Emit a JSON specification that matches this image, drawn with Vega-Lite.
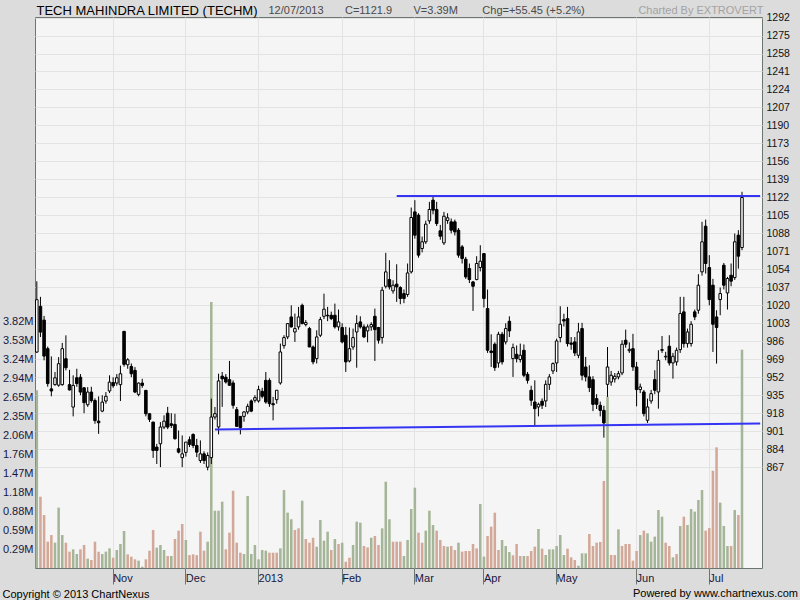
{
"$schema": "https://vega.github.io/schema/vega-lite/v6.json",
"width": 727,
"height": 551,
"autosize": {"type": "none"},
"padding": {"left": 35, "top": 17, "right": 38, "bottom": 32},
"background": "#dcdcdc",
"title": {"text": "Powered by www.chartnexus.com", "orient": "bottom", "anchor": "end", "frame": "group", "font": "Liberation Sans", "fontSize": 11, "fontWeight": "normal", "color": "#000000", "offset": 0, "dx": 36, "dy": -11},
"config": {
  "view": {"fill": "#f5f5f5", "stroke": "#6b7671", "strokeWidth": 1},
  "axis": {"labelFont": "Liberation Sans", "titleFont": "Liberation Sans", "titleFontWeight": "normal", "domain": false, "labelOverlap": false},
  "axisRight": {"labelOverlap": false, "labelBound": false, "labelFlush": false}
},
"datasets": {
"ohlc": [
{"date":"2012-10-01","open":975.8,"high":1042.7,"low":975,"close":1025.3,"vol":2.76,"dir":"up"},
{"date":"2012-10-03","open":1019,"high":1028,"low":990,"close":994.7,"vol":1.107,"dir":"down"},
{"date":"2012-10-04","open":1006,"high":1010,"low":968,"close":972,"vol":0.823,"dir":"down"},
{"date":"2012-10-05","open":979,"high":981,"low":943,"close":946,"vol":0.409,"dir":"down"},
{"date":"2012-10-08","open":941,"high":971.7,"low":934,"close":939,"vol":0.512,"dir":"down"},
{"date":"2012-10-09","open":945,"high":957,"low":944,"close":951.5,"vol":0.393,"dir":"up"},
{"date":"2012-10-10","open":944.5,"high":971,"low":943,"close":964.8,"vol":0.937,"dir":"up"},
{"date":"2012-10-11","open":945,"high":984.4,"low":944,"close":979,"vol":0.512,"dir":"up"},
{"date":"2012-10-12","open":969.5,"high":991.6,"low":958.5,"close":961,"vol":0.393,"dir":"down"},
{"date":"2012-10-15","open":945,"high":959,"low":939.5,"close":940,"vol":0.254,"dir":"down"},
{"date":"2012-10-16","open":923.8,"high":953.8,"low":915,"close":944.3,"vol":0.29,"dir":"up"},
{"date":"2012-10-17","open":951.5,"high":960,"low":943,"close":946,"vol":0.217,"dir":"up"},
{"date":"2012-10-18","open":952,"high":955,"low":935,"close":938,"vol":0.29,"dir":"down"},
{"date":"2012-10-19","open":942,"high":942.7,"low":918,"close":928,"vol":0.357,"dir":"down"},
{"date":"2012-10-22","open":926,"high":942.7,"low":924,"close":938,"vol":0.145,"dir":"up"},
{"date":"2012-10-23","open":938,"high":943,"low":928,"close":930,"vol":0.124,"dir":"down"},
{"date":"2012-10-25","open":930,"high":932,"low":908,"close":911,"vol":0.409,"dir":"down"},
{"date":"2012-10-26","open":910.5,"high":933.9,"low":898.5,"close":909,"vol":0.254,"dir":"down"},
{"date":"2012-10-29","open":920,"high":935,"low":919,"close":928.5,"vol":0.217,"dir":"up"},
{"date":"2012-10-30","open":929.5,"high":938,"low":927,"close":934,"vol":0.254,"dir":"up"},
{"date":"2012-10-31","open":939,"high":953.8,"low":937,"close":947.4,"vol":0.305,"dir":"up"},
{"date":"2012-11-01","open":947,"high":952,"low":942,"close":944,"vol":0.16,"dir":"down"},
{"date":"2012-11-02","open":946.5,"high":955,"low":944,"close":951.5,"vol":0.28,"dir":"up"},
{"date":"2012-11-05","open":945,"high":963,"low":929.5,"close":955.3,"vol":0.373,"dir":"up"},
{"date":"2012-11-06","open":995.4,"high":995.6,"low":962,"close":964.2,"vol":0.575,"dir":"up"},
{"date":"2012-11-07","open":963.8,"high":970,"low":960,"close":968.5,"vol":0.212,"dir":"down"},
{"date":"2012-11-08","open":962.2,"high":965,"low":952,"close":955.3,"vol":0.176,"dir":"down"},
{"date":"2012-11-09","open":958.5,"high":961.6,"low":937,"close":938,"vol":0.135,"dir":"down"},
{"date":"2012-11-12","open":935.8,"high":947,"low":934,"close":946.5,"vol":0.114,"dir":"up"},
{"date":"2012-11-13","open":946.5,"high":950.5,"low":942,"close":944.3,"vol":0.02,"dir":"up"},
{"date":"2012-11-15","open":939.6,"high":940,"low":915,"close":917.5,"vol":0.135,"dir":"down"},
{"date":"2012-11-16","open":917.5,"high":918,"low":909.7,"close":912.2,"vol":0.269,"dir":"down"},
{"date":"2012-11-19","open":909.6,"high":910,"low":875.8,"close":882.8,"vol":0.59,"dir":"down"},
{"date":"2012-11-20","open":886,"high":889,"low":870,"close":882.8,"vol":0.316,"dir":"up"},
{"date":"2012-11-21","open":889.1,"high":909.6,"low":867,"close":904.9,"vol":0.357,"dir":"up"},
{"date":"2012-11-22","open":904.9,"high":916,"low":903,"close":910.5,"vol":0.28,"dir":"up"},
{"date":"2012-11-23","open":918,"high":924,"low":903,"close":904.9,"vol":0.186,"dir":"down"},
{"date":"2012-11-26","open":908,"high":918,"low":904,"close":906.5,"vol":0.186,"dir":"up"},
{"date":"2012-11-27","open":907.4,"high":917.5,"low":893,"close":893.9,"vol":0.45,"dir":"down"},
{"date":"2012-11-29","open":884.4,"high":901.7,"low":880,"close":881.2,"vol":0.58,"dir":"down"},
{"date":"2012-11-30","open":876,"high":897,"low":867,"close":879.6,"vol":0.683,"dir":"down"},
{"date":"2012-12-03","open":881,"high":890,"low":877,"close":890.7,"vol":0.435,"dir":"up"},
{"date":"2012-12-04","open":892.9,"high":896,"low":886,"close":888.5,"vol":0.2,"dir":"down"},
{"date":"2012-12-05","open":897.9,"high":899,"low":885,"close":887.5,"vol":0.212,"dir":"down"},
{"date":"2012-12-06","open":887.5,"high":893.8,"low":876.5,"close":881.2,"vol":0.2,"dir":"down"},
{"date":"2012-12-07","open":873.3,"high":892.3,"low":871,"close":879.6,"vol":0.564,"dir":"down"},
{"date":"2012-12-10","open":879.6,"high":882,"low":870,"close":873.3,"vol":0.269,"dir":"down"},
{"date":"2012-12-11","open":867,"high":881,"low":864,"close":878,"vol":0.409,"dir":"up"},
{"date":"2012-12-12","open":876,"high":931.8,"low":870,"close":914.4,"vol":4.13,"dir":"up"},
{"date":"2012-12-13","open":914.4,"high":923.9,"low":912,"close":917.6,"vol":0.89,"dir":"up"},
{"date":"2012-12-14","open":905,"high":955.4,"low":898,"close":948.5,"vol":0.89,"dir":"up"},
{"date":"2012-12-17","open":953,"high":957,"low":924,"close":950.5,"vol":1.03,"dir":"up"},
{"date":"2012-12-18","open":952,"high":955,"low":946,"close":947.5,"vol":0.29,"dir":"down"},
{"date":"2012-12-19","open":949.7,"high":967.4,"low":944,"close":944.4,"vol":0.549,"dir":"down"},
{"date":"2012-12-20","open":946.6,"high":949,"low":922.3,"close":925.5,"vol":1.2,"dir":"down"},
{"date":"2012-12-21","open":921.4,"high":923.9,"low":905,"close":905.6,"vol":0.393,"dir":"down"},
{"date":"2012-12-24","open":915,"high":915,"low":898,"close":904.4,"vol":0.238,"dir":"down"},
{"date":"2012-12-26","open":915,"high":920,"low":910,"close":919.2,"vol":0.217,"dir":"up"},
{"date":"2012-12-27","open":919.2,"high":927,"low":917,"close":924.5,"vol":1.118,"dir":"up"},
{"date":"2012-12-28","open":929.6,"high":931,"low":919,"close":920,"vol":0.217,"dir":"up"},
{"date":"2012-12-31","open":930.2,"high":935,"low":928,"close":932.7,"vol":0.357,"dir":"up"},
{"date":"2013-01-01","open":929.6,"high":944,"low":928,"close":940.3,"vol":0.135,"dir":"up"},
{"date":"2013-01-02","open":938.7,"high":942,"low":932,"close":934,"vol":0.28,"dir":"up"},
{"date":"2013-01-03","open":949.1,"high":957,"low":927,"close":928.6,"vol":0.269,"dir":"up"},
{"date":"2013-01-04","open":949,"high":951,"low":924,"close":927,"vol":0.238,"dir":"down"},
{"date":"2013-01-07","open":927,"high":933.4,"low":911.3,"close":926,"vol":0.238,"dir":"down"},
{"date":"2013-01-08","open":930.8,"high":937,"low":927,"close":939.7,"vol":0.238,"dir":"down"},
{"date":"2013-01-09","open":946.6,"high":983.8,"low":945,"close":975.9,"vol":0.305,"dir":"up"},
{"date":"2013-01-10","open":981.9,"high":991.7,"low":979,"close":989.5,"vol":1.21,"dir":"up"},
{"date":"2013-01-11","open":990.1,"high":1003,"low":988,"close":1002.7,"vol":0.86,"dir":"up"},
{"date":"2013-01-14","open":1009,"high":1020,"low":999,"close":999.6,"vol":0.756,"dir":"up"},
{"date":"2013-01-15","open":994.8,"high":1012.2,"low":985.4,"close":998,"vol":0.59,"dir":"down"},
{"date":"2013-01-16","open":999.6,"high":1018.5,"low":997,"close":1009,"vol":0.616,"dir":"down"},
{"date":"2013-01-17","open":1020,"high":1021.6,"low":1002,"close":1002.7,"vol":1.045,"dir":"up"},
{"date":"2013-01-18","open":1001.8,"high":1006,"low":1000,"close":1003.7,"vol":0.45,"dir":"down"},
{"date":"2013-01-21","open":998,"high":999.6,"low":980.6,"close":980.6,"vol":0.393,"dir":"down"},
{"date":"2013-01-22","open":980.6,"high":982,"low":964.2,"close":966.5,"vol":0.47,"dir":"down"},
{"date":"2013-01-23","open":969.6,"high":996.4,"low":965,"close":990.1,"vol":0.33,"dir":"up"},
{"date":"2013-01-24","open":991.7,"high":1009,"low":990,"close":1006.5,"vol":0.745,"dir":"up"},
{"date":"2013-01-25","open":1009.6,"high":1031,"low":1007,"close":1016.3,"vol":0.424,"dir":"up"},
{"date":"2013-01-28","open":1010.6,"high":1018.5,"low":1005,"close":1010,"vol":0.564,"dir":"up"},
{"date":"2013-01-29","open":1010.6,"high":1014,"low":1006,"close":1007.4,"vol":0.28,"dir":"down"},
{"date":"2013-01-30","open":1010.6,"high":1021.6,"low":998,"close":999.6,"vol":0.45,"dir":"up"},
{"date":"2013-01-31","open":999.6,"high":1016,"low":996,"close":1004.3,"vol":0.373,"dir":"down"},
{"date":"2013-02-01","open":999,"high":1003,"low":984,"close":985.4,"vol":0.393,"dir":"up"},
{"date":"2013-02-04","open":991.7,"high":999.6,"low":957,"close":966.5,"vol":0.098,"dir":"down"},
{"date":"2013-02-05","open":967.4,"high":999,"low":966,"close":979,"vol":0.16,"dir":"down"},
{"date":"2013-02-06","open":980.6,"high":998,"low":978,"close":989.5,"vol":0.357,"dir":"up"},
{"date":"2013-02-07","open":994.8,"high":1010.6,"low":961,"close":1002.7,"vol":0.72,"dir":"up"},
{"date":"2013-02-08","open":1004.3,"high":1009.6,"low":998,"close":999.6,"vol":0.704,"dir":"up"},
{"date":"2013-02-11","open":999.6,"high":1002,"low":989,"close":990.1,"vol":0.342,"dir":"down"},
{"date":"2013-02-12","open":995.8,"high":1002,"low":985,"close":999.6,"vol":0.32,"dir":"down"},
{"date":"2013-02-13","open":999.6,"high":1004,"low":996,"close":1001.8,"vol":0.47,"dir":"up"},
{"date":"2013-02-14","open":1009.6,"high":1016.9,"low":967.4,"close":997,"vol":0.497,"dir":"down"},
{"date":"2013-02-15","open":999,"high":999.6,"low":983.8,"close":987,"vol":0.357,"dir":"down"},
{"date":"2013-02-18","open":989.5,"high":1037.4,"low":983.8,"close":1034.3,"vol":0.616,"dir":"up"},
{"date":"2013-02-19","open":1038,"high":1069.6,"low":1036,"close":1051.6,"vol":1.34,"dir":"up"},
{"date":"2013-02-20","open":1044.3,"high":1062.6,"low":1035,"close":1037.4,"vol":0.756,"dir":"up"},
{"date":"2013-02-21","open":1033.6,"high":1043.7,"low":1031,"close":1039,"vol":0.409,"dir":"down"},
{"date":"2013-02-22","open":1040,"high":1058.8,"low":1023.2,"close":1037.4,"vol":0.409,"dir":"down"},
{"date":"2013-02-25","open":1036.8,"high":1038,"low":1021,"close":1026.4,"vol":0.41,"dir":"down"},
{"date":"2013-02-26","open":1031.1,"high":1035,"low":1022,"close":1026.4,"vol":0.186,"dir":"up"},
{"date":"2013-02-27","open":1030.2,"high":1059.5,"low":1028,"close":1050.6,"vol":0.435,"dir":"up"},
{"date":"2013-02-28","open":1051.6,"high":1112.4,"low":1050,"close":1103,"vol":0.916,"dir":"up"},
{"date":"2013-03-01","open":1108.3,"high":1119.4,"low":1083,"close":1086.3,"vol":1.247,"dir":"up"},
{"date":"2013-03-04","open":1105.2,"high":1107,"low":1065,"close":1067.4,"vol":0.549,"dir":"down"},
{"date":"2013-03-05","open":1073.7,"high":1085,"low":1070,"close":1080,"vol":0.393,"dir":"down"},
{"date":"2013-03-06","open":1080,"high":1100,"low":1078,"close":1096.7,"vol":0.58,"dir":"up"},
{"date":"2013-03-07","open":1099.8,"high":1117.8,"low":1097,"close":1110.6,"vol":0.89,"dir":"up"},
{"date":"2013-03-08","open":1119.4,"high":1122.5,"low":1106,"close":1109.9,"vol":0.668,"dir":"up"},
{"date":"2013-03-11","open":1110.6,"high":1117.8,"low":1095,"close":1097.3,"vol":0.58,"dir":"down"},
{"date":"2013-03-12","open":1090.4,"high":1096,"low":1082,"close":1085.3,"vol":0.435,"dir":"down"},
{"date":"2013-03-13","open":1079,"high":1108.3,"low":1077,"close":1104.2,"vol":0.342,"dir":"down"},
{"date":"2013-03-14","open":1100.1,"high":1107,"low":1097,"close":1102.7,"vol":0.331,"dir":"up"},
{"date":"2013-03-15","open":1098.9,"high":1102,"low":1088,"close":1091,"vol":0.342,"dir":"down"},
{"date":"2013-03-18","open":1098.9,"high":1101,"low":1086,"close":1089.4,"vol":0.28,"dir":"down"},
{"date":"2013-03-19","open":1091,"high":1093,"low":1065,"close":1067.4,"vol":0.393,"dir":"up"},
{"date":"2013-03-20","open":1075.2,"high":1077,"low":1059.5,"close":1064.2,"vol":0.254,"dir":"down"},
{"date":"2013-03-21","open":1063.6,"high":1065.8,"low":1045,"close":1046.9,"vol":0.264,"dir":"down"},
{"date":"2013-03-22","open":1054.7,"high":1059.5,"low":1041,"close":1044.3,"vol":0.264,"dir":"down"},
{"date":"2013-03-25","open":1042.1,"high":1043,"low":1014.7,"close":1038,"vol":0.373,"dir":"down"},
{"date":"2013-03-26","open":1044.3,"high":1066.4,"low":1043.7,"close":1059.5,"vol":0.305,"dir":"down"},
{"date":"2013-03-28","open":1055.7,"high":1076.8,"low":1052,"close":1061.7,"vol":0.994,"dir":"up"},
{"date":"2013-04-01","open":1068.9,"high":1069,"low":1017.9,"close":1026.4,"vol":0.176,"dir":"up"},
{"date":"2013-04-02","open":1016.9,"high":1034.9,"low":975,"close":977.5,"vol":0.497,"dir":"down"},
{"date":"2013-04-03","open":976.8,"high":992.6,"low":961.7,"close":975.3,"vol":0.642,"dir":"down"},
{"date":"2013-04-04","open":983.2,"high":985,"low":958,"close":961.1,"vol":0.859,"dir":"down"},
{"date":"2013-04-05","open":965.5,"high":995,"low":961,"close":992.6,"vol":0.28,"dir":"down"},
{"date":"2013-04-08","open":992.6,"high":994.8,"low":964,"close":966.5,"vol":0.435,"dir":"up"},
{"date":"2013-04-09","open":985.4,"high":1003,"low":983,"close":998,"vol":0.342,"dir":"up"},
{"date":"2013-04-10","open":1004.9,"high":1009.6,"low":990,"close":995.8,"vol":0.248,"dir":"up"},
{"date":"2013-04-11","open":969.6,"high":983.8,"low":952.3,"close":980,"vol":0.197,"dir":"down"},
{"date":"2013-04-12","open":973.7,"high":982,"low":966,"close":969.6,"vol":0.373,"dir":"down"},
{"date":"2013-04-15","open":968.7,"high":983.8,"low":966,"close":972.8,"vol":0.186,"dir":"down"},
{"date":"2013-04-16","open":977.5,"high":983,"low":952,"close":953.9,"vol":0.186,"dir":"up"},
{"date":"2013-04-17","open":954.8,"high":957,"low":946,"close":949.1,"vol":0.186,"dir":"down"},
{"date":"2013-04-18","open":939.7,"high":944,"low":925,"close":930.2,"vol":0.264,"dir":"down"},
{"date":"2013-04-22","open":928.6,"high":949.1,"low":906.6,"close":922.3,"vol":0.331,"dir":"down"},
{"date":"2013-04-23","open":923.9,"high":928,"low":915,"close":926.4,"vol":0.606,"dir":"up"},
{"date":"2013-04-25","open":929.3,"high":932,"low":922,"close":925.5,"vol":0.3,"dir":"down"},
{"date":"2013-04-26","open":929.6,"high":949.1,"low":923.9,"close":945.3,"vol":0.202,"dir":"up"},
{"date":"2013-04-29","open":945.3,"high":955,"low":940,"close":952.3,"vol":0.29,"dir":"up"},
{"date":"2013-04-30","open":958,"high":966,"low":955,"close":964.9,"vol":0.29,"dir":"up"},
{"date":"2013-05-02","open":965.5,"high":988.5,"low":957,"close":986.3,"vol":0.342,"dir":"up"},
{"date":"2013-05-03","open":989.5,"high":1019.1,"low":985,"close":1002.1,"vol":0.512,"dir":"up"},
{"date":"2013-05-06","open":1006.5,"high":1012,"low":1000,"close":1005.2,"vol":0.202,"dir":"up"},
{"date":"2013-05-07","open":1007.4,"high":1018.5,"low":981,"close":983.8,"vol":0.3,"dir":"down"},
{"date":"2013-05-08","open":984.4,"high":990,"low":978,"close":983.2,"vol":0.166,"dir":"down"},
{"date":"2013-05-09","open":985.4,"high":990,"low":972,"close":975,"vol":0.124,"dir":"down"},
{"date":"2013-05-10","open":972.8,"high":1003.4,"low":970,"close":994.8,"vol":0.036,"dir":"up"},
{"date":"2013-05-13","open":998,"high":1003.4,"low":949.1,"close":953.9,"vol":0.228,"dir":"up"},
{"date":"2013-05-14","open":961.7,"high":971.2,"low":948,"close":952.3,"vol":0.228,"dir":"up"},
{"date":"2013-05-15","open":952.3,"high":963.3,"low":938,"close":942.2,"vol":0.528,"dir":"down"},
{"date":"2013-05-16","open":949.7,"high":953,"low":920,"close":926.4,"vol":0.342,"dir":"down"},
{"date":"2013-05-17","open":931.8,"high":936,"low":922,"close":926.4,"vol":0.393,"dir":"down"},
{"date":"2013-05-20","open":925.5,"high":929,"low":915,"close":920.7,"vol":0.404,"dir":"down"},
{"date":"2013-05-21","open":920.7,"high":925,"low":894.9,"close":908.8,"vol":1.351,"dir":"down"},
{"date":"2013-05-22","open":945.3,"high":980.6,"low":933.4,"close":961.7,"vol":2.66,"dir":"up"},
{"date":"2013-05-23","open":947.5,"high":958,"low":944,"close":953.9,"vol":0.202,"dir":"down"},
{"date":"2013-05-24","open":950.4,"high":956,"low":947,"close":952.9,"vol":0.202,"dir":"down"},
{"date":"2013-05-27","open":952.3,"high":958,"low":950,"close":955.4,"vol":0.6,"dir":"up"},
{"date":"2013-05-28","open":956.1,"high":987,"low":954,"close":983.2,"vol":0.342,"dir":"down"},
{"date":"2013-05-29","open":987,"high":997,"low":980,"close":983.2,"vol":0.373,"dir":"down"},
{"date":"2013-05-30","open":977.1,"high":985,"low":975,"close":978.4,"vol":0.373,"dir":"down"},
{"date":"2013-05-31","open":979,"high":993,"low":958,"close":961.7,"vol":0.114,"dir":"down"},
{"date":"2013-06-03","open":961.7,"high":966.5,"low":924.5,"close":940.3,"vol":0.264,"dir":"down"},
{"date":"2013-06-04","open":940.3,"high":946,"low":937,"close":942.8,"vol":0.512,"dir":"up"},
{"date":"2013-06-05","open":938.1,"high":940,"low":915,"close":917.6,"vol":0.58,"dir":"down"},
{"date":"2013-06-06","open":911.3,"high":931.8,"low":908.8,"close":923.9,"vol":0.538,"dir":"up"},
{"date":"2013-06-07","open":929.6,"high":940,"low":927,"close":936.5,"vol":0.41,"dir":"up"},
{"date":"2013-06-10","open":949.7,"high":958.6,"low":936,"close":939.7,"vol":0.487,"dir":"up"},
{"date":"2013-06-11","open":938.1,"high":977.5,"low":922.3,"close":968,"vol":0.9,"dir":"up"},
{"date":"2013-06-12","open":978.1,"high":991,"low":975,"close":977.5,"vol":0.797,"dir":"up"},
{"date":"2013-06-13","open":971.2,"high":976,"low":968,"close":971.8,"vol":0.393,"dir":"down"},
{"date":"2013-06-14","open":981.3,"high":991.7,"low":963,"close":965.5,"vol":0.342,"dir":"down"},
{"date":"2013-06-17","open":965.5,"high":975,"low":950.7,"close":971.8,"vol":0.166,"dir":"up"},
{"date":"2013-06-18","open":966.5,"high":980,"low":963,"close":977.5,"vol":0.217,"dir":"down"},
{"date":"2013-06-19","open":978.1,"high":1028,"low":975,"close":1012.2,"vol":0.652,"dir":"up"},
{"date":"2013-06-20","open":1013.8,"high":1028,"low":980,"close":983.8,"vol":0.797,"dir":"down"},
{"date":"2013-06-21","open":983.8,"high":998,"low":980,"close":994.8,"vol":0.668,"dir":"up"},
{"date":"2013-06-24","open":983.8,"high":1005,"low":981,"close":1002.1,"vol":0.916,"dir":"up"},
{"date":"2013-06-25","open":1013.8,"high":1016,"low":1006,"close":1009,"vol":0.875,"dir":"up"},
{"date":"2013-06-26","open":1015.3,"high":1049.4,"low":1012,"close":1039,"vol":1.056,"dir":"up"},
{"date":"2013-06-27","open":1051.6,"high":1098.9,"low":1048,"close":1080,"vol":1.211,"dir":"up"},
{"date":"2013-06-28","open":1094.8,"high":1101,"low":1050,"close":1059.5,"vol":0.58,"dir":"down"},
{"date":"2013-07-01","open":1055.7,"high":1067.4,"low":1020,"close":1025.4,"vol":0.62,"dir":"down"},
{"date":"2013-07-02","open":1039,"high":1045,"low":975.9,"close":1002.1,"vol":1.51,"dir":"down"},
{"date":"2013-07-03","open":1009,"high":1015.3,"low":964.9,"close":999,"vol":1.874,"dir":"down"},
{"date":"2013-07-04","open":1025.4,"high":1036.8,"low":1010.6,"close":1031.1,"vol":1.015,"dir":"up"},
{"date":"2013-07-05","open":1057.9,"high":1060,"low":1035,"close":1039,"vol":0.652,"dir":"up"},
{"date":"2013-07-08","open":1031.7,"high":1046.9,"low":1016,"close":1045.3,"vol":0.342,"dir":"up"},
{"date":"2013-07-09","open":1048.4,"high":1059.5,"low":1038,"close":1042.8,"vol":0.342,"dir":"down"},
{"date":"2013-07-10","open":1046.2,"high":1087.9,"low":1044,"close":1080,"vol":0.9,"dir":"up"},
{"date":"2013-07-11","open":1086.3,"high":1091,"low":1054.7,"close":1066.45,"vol":0.823,"dir":"down"},
{"date":"2013-07-12","open":1074.6,"high":1127.3,"low":1072.1,"close":1121.9,"vol":3.39,"dir":"up"}
],
"lines": [
{"date":"2013-02-22","price":1123.4,"line":"resistance"},
{"date":"2013-07-19","price":1123.4,"line":"resistance"},
{"date":"2012-12-13","price":902.6,"line":"support"},
{"date":"2013-07-19","price":908.2,"line":"support"}
],
"pad": [
{"date":"2013-07-15"},{"date":"2013-07-16"},{"date":"2013-07-17"},{"date":"2013-07-18"},{"date":"2013-07-19"}
]
},
"layer": [
{
  "data": {"name": "ohlc"},
  "mark": {"type": "bar"},
  "encoding": {
    "x": {"field": "date", "type": "ordinal", "scale": {"type": "band", "paddingInner": 0.3, "paddingOuter": 0.15},
      "axis": {"orient": "bottom", "values": ["2012-11-01","2012-12-03","2013-01-01","2013-02-01","2013-03-01","2013-04-01","2013-05-02","2013-06-03","2013-07-01"],
        "labelExpr": "datum.value == '2013-01-01' ? '2013' : utcFormat(toDate(datum.value), '%b')",
        "bandPosition": 0.5, "grid": true, "gridColor": "#e3e3e3", "ticks": true, "tickSize": 16, "tickColor": "#6b7671",
        "labelAlign": "left", "labelBaseline": "top", "labelDx": 2, "labelPadding": -12, "labelFontSize": 11, "labelColor": "#16163f", "labelAngle": 0,
        "title": "Copyright © 2013 ChartNexus", "titleX": -33, "titleY": 29, "titleAlign": "left", "titleBaseline": "alphabetic", "titleAnchor": null, "titleFontSize": 11, "titleColor": "#000000"}},
    "y": {"field": "vol", "type": "quantitative", "scale": {"domain": [0, 8.556], "nice": false, "zero": true},
      "axis": {"orient": "left", "values": [0.29413,0.58826,0.88239,1.17652,1.47065,1.76478,2.05891,2.35304,2.64717,2.9413,3.23543,3.52956,3.82369],
        "labelExpr": "format(datum.value, '.2f') + 'M'", "labelOverlap": false, "grid": false, "ticks": false, "labelPadding": 2, "labelFontSize": 11, "labelColor": "#16163f",
        "title": "Charted By EXTROVERT", "titleAngle": 0, "titleX": 728, "titleY": -4, "titleAlign": "right", "titleBaseline": "alphabetic", "titleFontSize": 11, "titleColor": "#a3a3a3"}},
    "color": {"field": "dir", "type": "nominal", "scale": {"domain": ["up","down"], "range": ["#a5b597","#d3a898"]}, "legend": null}
  }
},
{
  "encoding": {
    "x": {"field": "date", "type": "ordinal", "scale": {"type": "band", "paddingInner": 0.3, "paddingOuter": 0.15},
      "axis": {"orient": "top", "labels": false, "ticks": false, "grid": false, "domain": false,
        "title": "TECH MAHINDRA LIMITED (TECHM)", "titleX": 1, "titleY": -3, "titleAlign": "left", "titleBaseline": "alphabetic", "titleFontSize": 13, "titleColor": "#000000"}}
  },
  "layer": [
    {
      "data": {"name": "pad"},
      "mark": {"type": "rule", "opacity": 0},
      "encoding": {}
    },
    {
      "data": {"name": "ohlc"},
      "mark": {"type": "rule", "color": "#000000", "strokeWidth": 1},
      "encoding": {
        "y": {"field": "low", "type": "quantitative", "scale": {"domain": [771.7, 1292.5], "nice": false, "zero": false},
          "axis": {"orient": "right", "values": [867,884,901,918,935,952,969,986,1003,1020,1037,1054,1071,1088,1105,1122,1139,1156,1173,1190,1207,1224,1241,1258,1275,1292],
            "format": "d", "labelOverlap": false, "labelBound": false, "labelSeparation": 0,
            "grid": true, "gridColor": "#e3e3e3", "ticks": false, "labelPadding": 4, "labelFontSize": 10.5, "labelColor": "#111111",
            "title": "12/07/2013\u00a0\u00a0\u00a0\u00a0\u00a0\u00a0\u00a0C=1121.9\u00a0\u00a0\u00a0\u00a0\u00a0\u00a0\u00a0V=3.39M\u00a0\u00a0\u00a0\u00a0\u00a0\u00a0\u00a0\u00a0Chg=+55.45 (+5.2%)",
            "titleAngle": 0, "titleX": -494, "titleY": -4, "titleAlign": "left", "titleBaseline": "alphabetic", "titleFontSize": 11, "titleColor": "#4a4a4a"}},
        "y2": {"field": "high"}
      }
    },
    {
      "data": {"name": "ohlc"},
      "mark": {"type": "bar", "stroke": "#000000", "strokeWidth": 1},
      "encoding": {
        "y": {"field": "open", "type": "quantitative", "scale": {"domain": [771.7, 1292.5], "nice": false, "zero": false},
          "axis": {"orient": "right", "values": [867,884,901,918,935,952,969,986,1003,1020,1037,1054,1071,1088,1105,1122,1139,1156,1173,1190,1207,1224,1241,1258,1275,1292],
            "format": "d", "labelOverlap": false, "labelBound": false, "labelSeparation": 0,
            "grid": true, "gridColor": "#e3e3e3", "ticks": false, "labelPadding": 4, "labelFontSize": 10.5, "labelColor": "#111111",
            "title": "12/07/2013\u00a0\u00a0\u00a0\u00a0\u00a0\u00a0\u00a0C=1121.9\u00a0\u00a0\u00a0\u00a0\u00a0\u00a0\u00a0V=3.39M\u00a0\u00a0\u00a0\u00a0\u00a0\u00a0\u00a0\u00a0Chg=+55.45 (+5.2%)",
            "titleAngle": 0, "titleX": -494, "titleY": -4, "titleAlign": "left", "titleBaseline": "alphabetic", "titleFontSize": 11, "titleColor": "#4a4a4a"}},
        "y2": {"field": "close"},
        "fill": {"condition": {"test": "datum.close >= datum.open", "value": "#ffffff"}, "value": "#000000"}
      }
    },
    {
      "data": {"name": "lines"},
      "mark": {"type": "line", "color": "#3434f4", "strokeWidth": 2},
      "encoding": {
        "y": {"field": "price", "type": "quantitative", "scale": {"domain": [771.7, 1292.5], "nice": false, "zero": false},
          "axis": {"orient": "right", "values": [867,884,901,918,935,952,969,986,1003,1020,1037,1054,1071,1088,1105,1122,1139,1156,1173,1190,1207,1224,1241,1258,1275,1292],
            "format": "d", "labelOverlap": false, "labelBound": false, "labelSeparation": 0,
            "grid": true, "gridColor": "#e3e3e3", "ticks": false, "labelPadding": 4, "labelFontSize": 10.5, "labelColor": "#111111",
            "title": "12/07/2013\u00a0\u00a0\u00a0\u00a0\u00a0\u00a0\u00a0C=1121.9\u00a0\u00a0\u00a0\u00a0\u00a0\u00a0\u00a0V=3.39M\u00a0\u00a0\u00a0\u00a0\u00a0\u00a0\u00a0\u00a0Chg=+55.45 (+5.2%)",
            "titleAngle": 0, "titleX": -494, "titleY": -4, "titleAlign": "left", "titleBaseline": "alphabetic", "titleFontSize": 11, "titleColor": "#4a4a4a"}},
        "detail": {"field": "line", "type": "nominal"}
      }
    }
  ]
}
],
"resolve": {"scale": {"y": "independent"}, "axis": {"x": "independent"}}
}
